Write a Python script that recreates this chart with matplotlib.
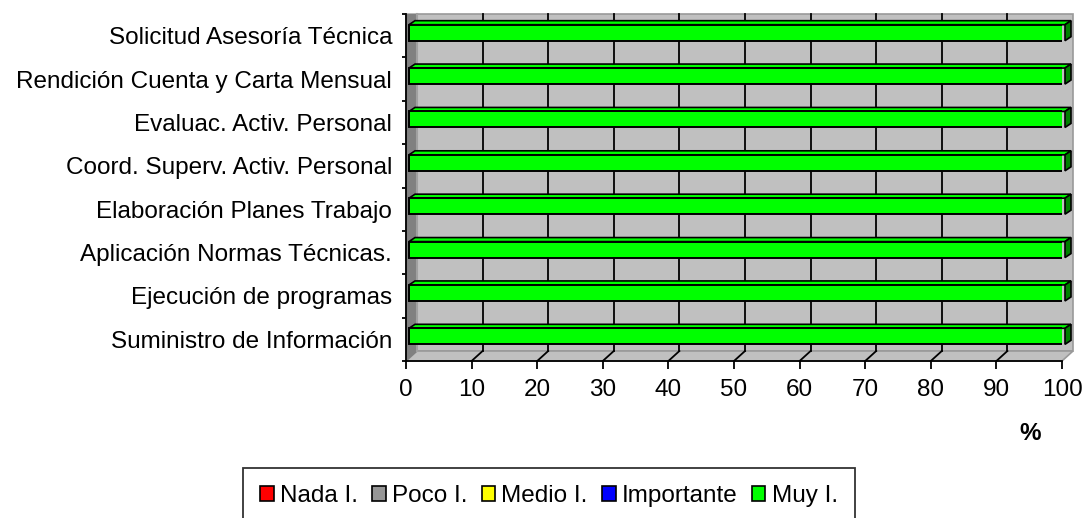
import matplotlib
matplotlib.use("Agg")
import matplotlib.pyplot as plt
from matplotlib.patches import Polygon, Rectangle, Patch

plt.rcParams['font.family'] = ['Liberation Sans Narrow', 'Liberation Sans', 'DejaVu Sans']

# datos
categorias = [
    "Suministro de Información",
    "Ejecución de programas",
    "Aplicación Normas Técnicas.",
    "Elaboración Planes Trabajo",
    "Coord. Superv. Activ. Personal",
    "Evaluac. Activ. Personal",
    "Rendición Cuenta y Carta Mensual",
    "Solicitud Asesoría Técnica",
]
series = ["Nada I.", "Poco I.", "Medio I.", "Importante", "Muy I."]
nada = [0, 0, 0, 0, 0, 0, 0, 0]
poco = [0, 0, 0, 0, 0, 0, 0, 0]
medio = [0, 0, 0, 0, 0, 0, 0, 0]
importante = [0, 0, 0, 0, 0, 0, 0, 0]
muy = [100, 100, 100, 100, 100, 100, 100, 100]
valores = [nada, poco, medio, importante, muy]
colores = ["#FF0000", "#969696", "#FFFF00", "#0000FF", "#00FF00"]
colores_lado = ["#800000", "#4b4b4b", "#808000", "#000080", "#008000"]
x_ticks = list(range(0, 101, 10))

FS = 17.5
W, H = 1087, 518
fig = plt.figure(figsize=(W / 100, H / 100), dpi=100)
# cara frontal del grafico (pixeles)
ax_l, ax_r, ax_t, ax_b = 406, 1062, 14, 361
ax = fig.add_axes([ax_l / W, (H - ax_b) / H, (ax_r - ax_l) / W, (ax_b - ax_t) / H])
ax.set_xlim(0, 100)
ax.set_ylim(-0.5, len(categorias) - 0.5)
ax.patch.set_visible(False)

# pixeles -> unidades de datos
UX = 100 / (ax_r - ax_l)
UY = len(categorias) / (ax_b - ax_t)
WDX, WDY = 11 * UX, 10 * UY   # profundidad de paredes
BX, BY = 3 * UX, 3 * UY       # desplazamiento de barras
BDX, BDY = 6 * UX, 4 * UY     # profundidad de barras
y0, y1 = -0.5, len(categorias) - 0.5

# pared del fondo
ax.add_patch(Rectangle((WDX, y0 + WDY), 100, y1 - y0 - WDY, facecolor="#C0C0C0",
                       edgecolor="#999999", lw=1.2, zorder=1, clip_on=False))
for v in x_ticks[1:-1]:
    ax.plot([v + WDX, v + WDX], [y0 + WDY, y1], color="black", lw=1.3, zorder=2, clip_on=False)
# piso
ax.add_patch(Polygon([(0, y0), (100, y0), (100 + WDX, y0 + WDY), (WDX, y0 + WDY)],
                     facecolor="#C0C0C0", edgecolor="#999999", lw=1.2, zorder=1, clip_on=False))
for v in x_ticks[1:-1]:
    ax.plot([v, v + WDX], [y0, y0 + WDY], color="black", lw=1.3, zorder=2, clip_on=False)
# pared izquierda
ax.add_patch(Polygon([(0, y0), (WDX, y0 + WDY), (WDX, y1), (0, y1)],
                     facecolor="#808080", edgecolor="#808080", lw=0.8, zorder=2, clip_on=False))
ax.plot([WDX, WDX], [y0 + WDY, y1], color="#A0A0A0", lw=1.5, zorder=2, clip_on=False)

# barras apiladas con efecto 3D
h = 16 * UY
izq = [0] * len(categorias)
for vals, c, cl in zip(valores, colores, colores_lado):
    for i, v in enumerate(vals):
        if v <= 0:
            continue
        x_a = izq[i] + BX
        x_b = izq[i] + v + BX
        yb = i + BY - h / 2
        yt = i + BY + h / 2
        # cara superior
        ax.add_patch(Polygon([(x_a, yt), (x_b, yt), (x_b + BDX, yt + BDY), (x_a + BDX, yt + BDY)],
                             facecolor=c, edgecolor="black", lw=1.2, zorder=4, clip_on=False))
        # cara lateral
        ax.add_patch(Polygon([(x_b, yb), (x_b + BDX, yb + BDY), (x_b + BDX, yt + BDY), (x_b, yt)],
                             facecolor=cl, edgecolor="black", lw=1.2, zorder=4, clip_on=False))
    ax.barh([i + BY for i in range(len(categorias))], vals, height=h,
            left=[l + BX for l in izq], color=c, edgecolor="black", lw=1.4, zorder=5)
    izq = [l + v for l, v in zip(izq, vals)]

# ejes
for s in ["top", "right"]:
    ax.spines[s].set_visible(False)
ax.spines["left"].set_color("black")
ax.spines["bottom"].set_color("black")
ax.spines["left"].set_linewidth(1.3)
ax.spines["bottom"].set_linewidth(1.3)
ax.spines["left"].set_zorder(6)

ax.set_xticks(x_ticks)
ax.set_xticklabels([str(v) for v in x_ticks], fontsize=FS)
ax.tick_params(axis="x", direction="out", length=6, width=1.3, pad=7)
ax.set_yticks(range(len(categorias)))
ax.set_yticklabels(categorias, fontsize=FS)
ax.tick_params(axis="y", which="major", length=0, pad=10)
ax.set_yticks([y0 + k for k in range(len(categorias) + 1)], minor=True)
ax.tick_params(axis="y", which="minor", direction="out", length=3, width=1.3)

fig.text(1030 / W, 1 - 433 / H, "%", fontsize=FS, fontweight="bold", ha="center", va="center")

handles = [Patch(facecolor=c, edgecolor="black", lw=1.2) for c in colores]
leg = fig.legend(handles, series, loc="upper center", bbox_to_anchor=(549 / W, 1 - 468 / H),
                 ncol=5, fontsize=FS, frameon=True, fancybox=False, handlelength=0.55,
                 handleheight=0.55, handletextpad=0.25, columnspacing=0.6, borderpad=0.7,
                 borderaxespad=0)
leg.get_frame().set_edgecolor("black")
leg.get_frame().set_linewidth(1.3)

fig.savefig("out.png", dpi=100)
